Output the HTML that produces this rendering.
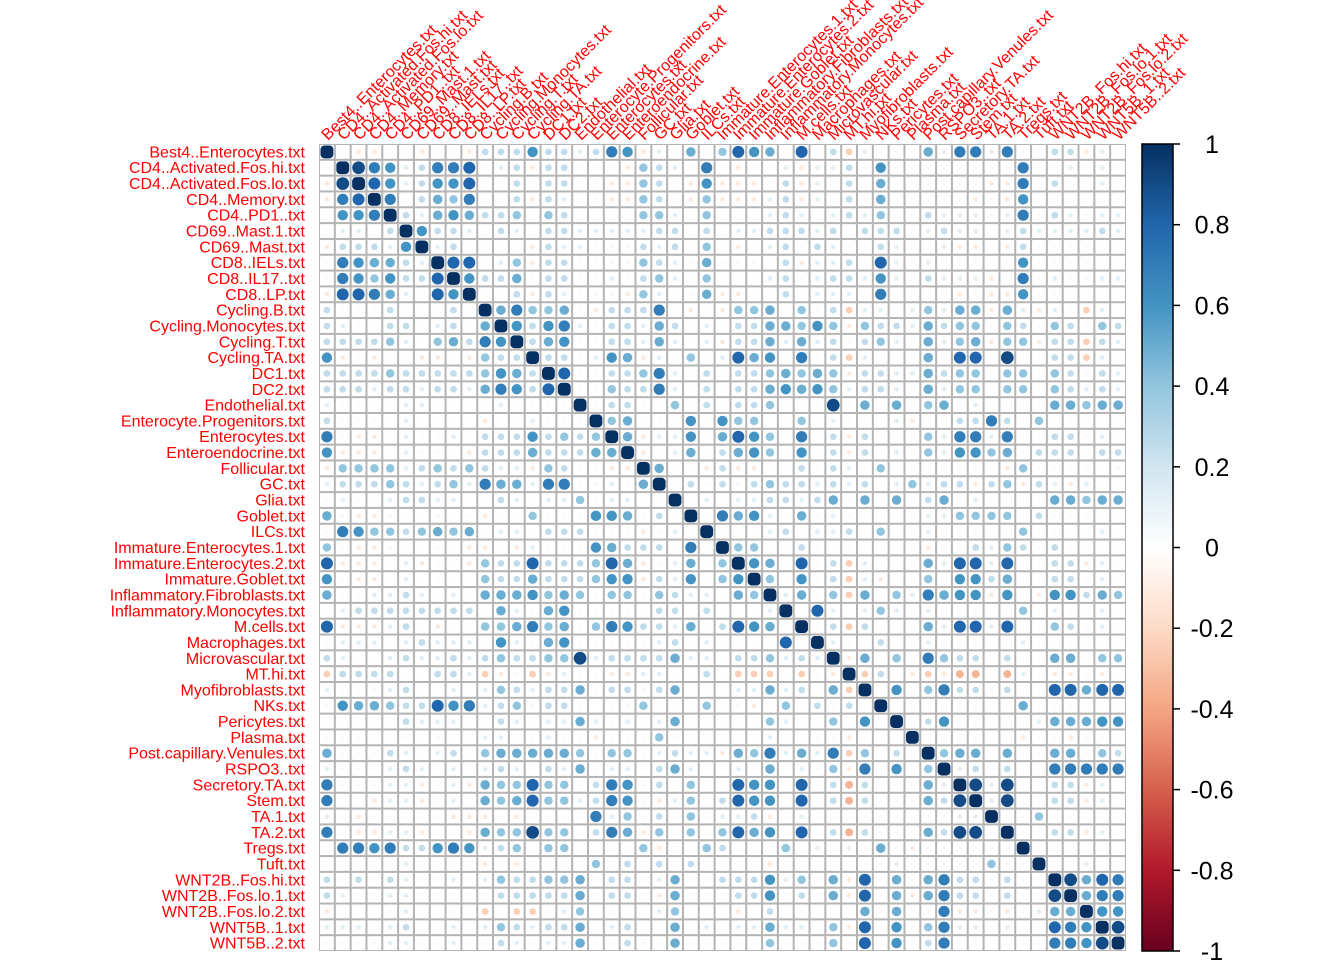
<!DOCTYPE html>
<html><head><meta charset="utf-8"><title>Correlation matrix</title>
<style>
html,body{margin:0;padding:0;background:#fff;}
svg{display:block;font-family:"Liberation Sans",Arial,sans-serif;}
</style></head>
<body>
<svg id="chart" width="1344" height="960" viewBox="0 0 1344 960" xmlns="http://www.w3.org/2000/svg">
<defs>
<linearGradient id="cbgrad" x1="0" y1="1" x2="0" y2="0">
<stop offset="0" stop-color="#67001F"/><stop offset="0.1" stop-color="#B2182B"/><stop offset="0.2" stop-color="#D6604D"/><stop offset="0.3" stop-color="#F4A582"/><stop offset="0.4" stop-color="#FDDBC7"/><stop offset="0.5" stop-color="#FFFFFF"/><stop offset="0.6" stop-color="#D1E5F0"/><stop offset="0.7" stop-color="#92C5DE"/><stop offset="0.8" stop-color="#4393C3"/><stop offset="0.9" stop-color="#2166AC"/><stop offset="1" stop-color="#053061"/>
</linearGradient>
</defs>
<g id="grid"></g>
<g id="rowlabels"></g>
<g id="collabels"></g>
<g id="colorbar">
<rect x="1142" y="144" width="31" height="807" fill="url(#cbgrad)" stroke="#000" stroke-width="1.5"/>
</g>
</svg>
<script>
const labels = ["Best4..Enterocytes.txt","CD4..Activated.Fos.hi.txt","CD4..Activated.Fos.lo.txt","CD4..Memory.txt","CD4..PD1..txt","CD69..Mast.1.txt","CD69..Mast.txt","CD8..IELs.txt","CD8..IL17..txt","CD8..LP.txt","Cycling.B.txt","Cycling.Monocytes.txt","Cycling.T.txt","Cycling.TA.txt","DC1.txt","DC2.txt","Endothelial.txt","Enterocyte.Progenitors.txt","Enterocytes.txt","Enteroendocrine.txt","Follicular.txt","GC.txt","Glia.txt","Goblet.txt","ILCs.txt","Immature.Enterocytes.1.txt","Immature.Enterocytes.2.txt","Immature.Goblet.txt","Inflammatory.Fibroblasts.txt","Inflammatory.Monocytes.txt","M.cells.txt","Macrophages.txt","Microvascular.txt","MT.hi.txt","Myofibroblasts.txt","NKs.txt","Pericytes.txt","Plasma.txt","Post.capillary.Venules.txt","RSPO3..txt","Secretory.TA.txt","Stem.txt","TA.1.txt","TA.2.txt","Tregs.txt","Tuft.txt","WNT2B..Fos.hi.txt","WNT2B..Fos.lo.1.txt","WNT2B..Fos.lo.2.txt","WNT5B..1.txt","WNT5B..2.txt"];
// correlation level codes (upper triangle, row i from column i)
const levelCodes = {"0":0,".":0.04,"1":0.12,"2":0.25,"3":0.4,"4":0.5,"5":0.6,"6":0.7,"7":0.8,"8":0.9,"9":1,"a":-0.05,"b":-0.12,"c":-0.25,"d":-0.35};
const upperRows = [
"9abb..b..b2225221265b1.4a3754.7.2c1a..416616a.22b1.",
"986512667.12b22.aab321a6aba.1b112.5....a.aa6..1.1.",
"97512557..2.22.abb32.b5bbb.2b1.2.4....a.bb6a2..1.",
"96.2436..2b21.abb32.b3bbb12b1.2a4....abab5.....a",
"921454223.32....331a3a..121.1213..2111a16a21a11",
"95221.21.221111122.2.1122212.222.1211.12111121",
"912....b211.aa212.3.b.12.21..21..1bb.b2......",
"977.13b22..aa321a4aaa.2b112.71a1.aaaa5......",
"95224.22..1.231.3...12.122151.2111b.6a1.a11",
"9..2b21.aab31.a4bb..2.111.6....b.bb5......",
"946334.b2226.b.b334.3.2c11.13144b41b1.c1.",
"952561.22142.1.2244353b32214233a32a32.32",
"9245..22141.1b2241412a231.4134b33b22c21",
"922.154b1.3.1745.6.2c1a..4.77.8..22c1.",
"97..22361.2.2234343b22114233a33a32a21",
"9..32261.2.22454531221.4133a33a32121",
"9.22..3.2.223...8.4.4.34.1....44344",
"934.a.5.533..3.1..01b..2262.3.....",
"94b115.4753.6.2b2...316616..22a1.",
"9b.14.2453.5.2b2a1.315534a222.22",
"94..b2bb..2.21a3....aaab3.....a",
"9.2a2a23221212.13122b23b21b1.",
"9.1.1122124.4.4.24.1....44344",
"9.6451.4.1.....113333.2.....",
"9...12.112.3..1.....3....1.",
"933..2.......b..2132a2.....",
"954.7.2c1a..417717..22b1.",
"93.5.2c1b..3.5524..22.1.",
"914.3c4.316455b5.b55243",
"9.71.131.1.....3.1..1.",
"9.2c2...417717..32a1.",
"91..2..1.....1......",
"9b4.3.6322.2..44.33",
"9c2.bcbdd.d1.bb.b.",
"9.5.3622a2..77477",
"9....aaaa4......",
"9.25.....144455",
"9...a..b..b...",
"9344a4.a44.32",
"912a2..66666",
"9818..22b1.",
"918..22b1.",
"9.a3aa...",
"9..22b1.",
"9a.....",
"9..1..",
"98476",
"9466",
"955",
"98",
"9"
];
const legendTicks = ["1","0.8","0.6","0.4","0.2","0","-0.2","-0.4","-0.6","-0.8","-1"];
const legendValues = [1,0.8,0.6,0.4,0.2,0,-0.2,-0.4,-0.6,-0.8,-1];

const N = labels.length;
const X0 = 319, Y0 = 144, CW = 807/51;
const NS = "http://www.w3.org/2000/svg";
function mk(tag, attrs, parent){const e=document.createElementNS(NS,tag);for(const k in attrs)e.setAttribute(k,attrs[k]);parent.appendChild(e);return e;}
function xScale(j){return X0 + j*CW;}
function yScale(i){return Y0 + i*CW;}
const M = [];
for(let i=0;i<N;i++){M.push(new Array(N).fill(0));}
for(let i=0;i<N;i++){
  const s = upperRows[i] || "";
  for(let k=0;k<N-i;k++){
    const ch = s[k];
    const v = (ch in levelCodes) ? levelCodes[ch] : 0.04;
    M[i][i+k]=v; M[i+k][i]=v;
  }
  M[i][i]=1;
}
const stops=[[-1,[103,0,31]],[-0.8,[178,24,43]],[-0.6,[214,96,77]],[-0.4,[244,165,130]],[-0.2,[253,219,199]],[0,[255,255,255]],[0.2,[209,229,240]],[0.4,[146,197,222]],[0.6,[67,147,195]],[0.8,[33,102,172]],[1,[5,48,97]]];
function color(v){
  for(let k=0;k<stops.length-1;k++){
    const a=stops[k],b=stops[k+1];
    if(v>=a[0]&&v<=b[0]){const t=(v-a[0])/(b[0]-a[0]);const c=a[1].map((x,m)=>Math.round(x+(b[1][m]-x)*t));return `rgb(${c[0]},${c[1]},${c[2]})`;}
  }
  return "#fff";
}
const grid=document.getElementById("grid");
const bg=mk("rect",{x:X0,y:Y0,width:N*CW,height:N*CW,fill:"#B4B4B4"},grid);


for(let i=0;i<N;i++){
  for(let j=0;j<N;j++){
    const cell=mk("rect",{x:(xScale(j)+1).toFixed(2),y:(yScale(i)+1).toFixed(2),width:(CW-2).toFixed(2),height:(CW-2).toFixed(2),fill:"#fff"},grid);
    
    
    const v=M[i][j];
    const r=(CW/2-1.2)*Math.sqrt(Math.abs(v));
    if(i===j){
      const sq=mk("rect",{x:(xScale(j)+1.5).toFixed(2),y:(yScale(i)+1.5).toFixed(2),width:(CW-3).toFixed(2),height:(CW-3).toFixed(2),rx:4,fill:color(v)},grid);
      
      
    } else {
      const c=mk("circle",{cx:(xScale(j)+CW/2).toFixed(2),cy:(yScale(i)+CW/2).toFixed(2),r:r.toFixed(2),fill:color(v)},grid);
      
      
    }
  }
}
const rl=document.getElementById("rowlabels"), cl=document.getElementById("collabels");
for(let i=0;i<N;i++){
  const t=mk("text",{x:305,y:(yScale(i)+CW/2+5.5).toFixed(2),"text-anchor":"end","font-size":"16",fill:"#FF0000"},rl);
  t.textContent=labels[i];
  
  
  const cx=xScale(i)+CW/2+1, cy=Y0-3;
  const u=mk("text",{x:cx.toFixed(2),y:cy,"font-size":"16",fill:"#FF0000",transform:`rotate(-45 ${cx.toFixed(2)} ${cy})`},cl);
  u.textContent=labels[i];
  
  
}
const cb=document.getElementById("colorbar");
const CBT=144, CBH=807;
for(let k=0;k<legendTicks.length;k++){
  const y=CBT+(1-legendValues[k])/2*CBH;
  const tk=mk("line",{x1:1173,x2:1180,y1:y,y2:y,stroke:"#000","stroke-width":1.5},cb);
  
  
  const t=mk("text",{x:1212,y:(y+9).toFixed(2),"text-anchor":"middle","font-size":"25",fill:"#000"},cb);
  t.textContent=legendTicks[k];
  
  
}
</script>
</body></html>
